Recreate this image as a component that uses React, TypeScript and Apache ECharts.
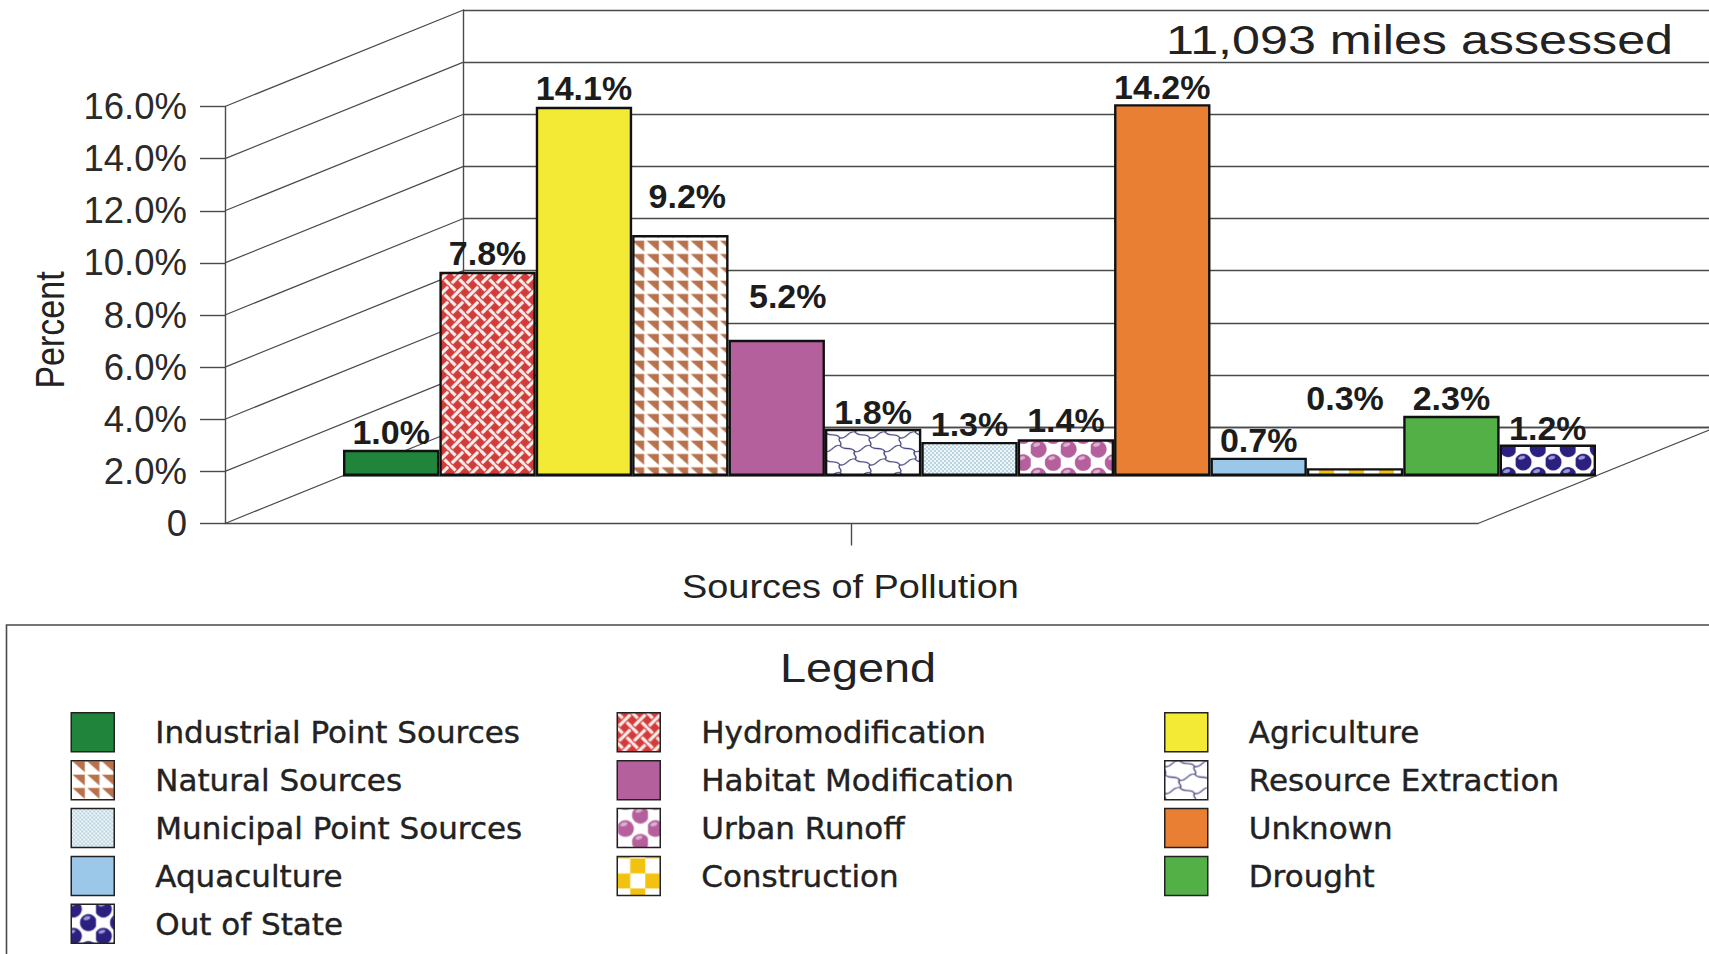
import React, { useEffect, useRef } from "react";
import * as echarts from "echarts";

const categories = [
  "Industrial Point Sources", "Hydromodification", "Agriculture", "Natural Sources", "Habitat Modification",
  "Resource Extraction", "Municipal Point Sources", "Urban Runoff", "Unknown", "Aquaculture",
  "Construction", "Drought", "Out of State",
];
const percents = [1.0, 7.8, 14.1, 9.2, 5.2, 1.8, 1.3, 1.4, 14.2, 0.7, 0.3, 2.3, 1.2];
const depthTicks = [0, 2, 4, 6, 8, 10, 12, 14, 16];
const legendColumns = [
  ["Industrial Point Sources", "Natural Sources", "Municipal Point Sources", "Aquaculture", "Out of State"],
  ["Hydromodification", "Habitat Modification", "Urban Runoff", "Construction"],
  ["Agriculture", "Resource Extraction", "Unknown", "Drought"],
];

// label placement relative to each bar top (screen px)
const labelLift = [18, 19, 19, 39.5, 43.7, 17, 18, 19, 17, 18, 70, 18, 17];
const labelShift = [0, 0, 0, 7, 11, 0, 0, 0, 0, 0, -10, 0, 0];

const FRONT = { left: 225, top: 106.5, width: 1253, height: 417 };
const DEPTH = { dx: 238.5, dy: -96.5 };
const INK = "#4a4a4a";
const SS = 3;

function tile(w: number, h: number, draw: (c: CanvasRenderingContext2D) => void) {
  const cv = document.createElement("canvas");
  cv.width = Math.round(w * SS);
  cv.height = Math.round(h * SS);
  const c = cv.getContext("2d")!;
  c.scale(SS, SS);
  draw(c);
  return cv;
}
// bake a phase into a tile (wrapped), since the pattern is anchored at the chart's origin
function shifted(src: HTMLCanvasElement, px: number, py: number) {
  const cv = document.createElement("canvas");
  cv.width = src.width;
  cv.height = src.height;
  const c = cv.getContext("2d")!;
  const ox = Math.round(px * SS) % src.width, oy = Math.round(py * SS) % src.height;
  for (const dx of [0, -src.width]) for (const dy of [0, -src.height]) c.drawImage(src, ox + dx, oy + dy);
  return cv;
}
function pat(cv: HTMLCanvasElement) {
  return { image: cv, repeat: "repeat", scaleX: 1 / SS, scaleY: 1 / SS };
}

function weaveTile() {
  const T = 15;
  return tile(T, T, (c) => {
    c.fillStyle = "#d23c38";
    c.fillRect(0, 0, T, T);
    c.strokeStyle = "#fbeeee";
    c.lineWidth = 3.1;
    const L = 0.37 * T;
    for (const ox of [-T, 0, T]) for (const oy of [-T, 0, T]) {
      c.beginPath();
      c.moveTo(ox - L, oy - L);
      c.lineTo(ox + L, oy + L);
      c.stroke();
      const cx = ox + T / 2, cy = oy + T / 2;
      c.beginPath();
      c.moveTo(cx - L, cy + L);
      c.lineTo(cx + L, cy - L);
      c.stroke();
    }
  });
}
function triangleTile() {
  const W = 14.7, H = 13.2;
  return tile(W, H, (c) => {
    c.fillStyle = "#fff";
    c.fillRect(0, 0, W, H);
    c.fillStyle = "#b9714c";
    c.beginPath();
    c.moveTo(1.2, 0.6);
    c.lineTo(W - 1.2, 0.6);
    c.lineTo(W - 1.2, H - 1.6);
    c.closePath();
    c.fill();
  });
}
function puzzleTile() {
  const W = 30, H = 27;
  return tile(W, H, (c) => {
    c.fillStyle = "#fff";
    c.fillRect(0, 0, W, H);
    c.strokeStyle = "#3b3b78";
    c.lineWidth = 1.15;
    const edge = (ax: number, ay: number, bx: number, by: number) => {
      const dx = bx - ax, dy = by - ay;
      const len = Math.hypot(dx, dy);
      const nx = (-dy / len) * 3.5, ny = (dx / len) * 3.5;
      c.beginPath();
      c.moveTo(ax, ay);
      c.bezierCurveTo(ax + dx / 3 + nx, ay + dy / 3 + ny, ax + (2 * dx) / 3 - nx, ay + (2 * dy) / 3 - ny, bx, by);
      c.stroke();
    };
    const row = (ox: number, oy: number) => {
      edge(ox, oy + 6, ox + 15, oy);
      edge(ox + 15, oy, ox + 30, oy + 6);
      edge(ox, oy + 6, ox, oy + 13.5);
      edge(ox + 30, oy + 6, ox + 30, oy + 13.5);
    };
    for (const ox of [-W, 0, W]) {
      for (const oy of [-H, 0, H]) {
        row(ox, oy);
        row(ox + 15, oy + 13.5);
      }
    }
  });
}
function dotTile() {
  const T = 4;
  return tile(T, T, (c) => {
    c.fillStyle = "#eef7fb";
    c.fillRect(0, 0, T, T);
    c.fillStyle = "#6f9db4";
    for (const [x, y] of [[1, 1], [3, 3]]) {
      c.beginPath();
      c.arc(x, y, 0.78, 0, Math.PI * 2);
      c.fill();
    }
  });
}
function ballTile(body: string, shine: string) {
  const W = 30, H = 27;
  return tile(W, H, (c) => {
    c.fillStyle = "#fff";
    c.fillRect(0, 0, W, H);
    for (const [cx, cy] of [[7.5, 6.75], [22.5, 20.25], [7.5, 33.75], [22.5, -6.75]]) {
      c.fillStyle = body;
      c.beginPath();
      c.arc(cx, cy, 8.4, 0, Math.PI * 2);
      c.fill();
      c.fillStyle = shine;
      c.beginPath();
      c.ellipse(cx - 1.5, cy - 4.4, 3.6, 1.9, -0.3, 0, Math.PI * 2);
      c.fill();
    }
  });
}
function checkerTile() {
  const T = 30;
  return tile(T, T, (c) => {
    c.fillStyle = "#fff";
    c.fillRect(0, 0, T, T);
    c.fillStyle = "#f3c20f";
    c.fillRect(0, 0, 15, 15);
    c.fillRect(15, 15, 15, 15);
  });
}

function App() {
  const ref = useRef<HTMLDivElement>(null);
  useEffect(() => {
    const chart = echarts.init(ref.current!, undefined, { renderer: "svg" });
    const weave = weaveTile(), tri = triangleTile(), puzzle = puzzleTile(), dots = dotTile();
    const pink = ballTile("#b5609d", "#dcb0d0"), navy = ballTile("#2b2080", "#9a9ad6"), check = checkerTile();

    const fills: Record<string, any> = {
      "Industrial Point Sources": "#20843a",
      Hydromodification: pat(weave),
      Agriculture: "#f2ea34",
      "Natural Sources": pat(tri),
      "Habitat Modification": "#b4609c",
      "Resource Extraction": pat(puzzle),
      "Municipal Point Sources": pat(dots),
      "Urban Runoff": pat(shifted(pink, 10.5, 10.25)),
      Unknown: "#e87f33",
      Aquaculture: "#9bc7e8",
      Construction: pat(shifted(check, 29, 11)),
      Drought: "#52b047",
      "Out of State": pat(shifted(navy, 15.5, 23.25)),
    };
    const legendFills: Record<string, any> = {
      ...fills,
      "Urban Runoff": pat(shifted(pink, 0.5, 13.25)),
      Construction: pat(shifted(check, 28, 17)),
      "Out of State": pat(shifted(navy, 24.5, 25)),
    };

    const barSeries = categories.map((name, k) => ({
      name,
      type: "bar",
      xAxisIndex: 2,
      yAxisIndex: 2,
      stack: "sources",
      barWidth: "100%",
      z: 3,
      silent: true,
      data: categories.map((_, i) => (i === k ? percents[k] : null)),
      itemStyle: { color: fills[name], borderColor: "#111", borderWidth: 2.4 },
      label: {
        show: true,
        position: "top",
        distance: labelLift[k] - 17,
        offset: [labelShift[k], 0],
        formatter: (p: any) => `${Number(p.value).toFixed(1)}%`,
        fontFamily: "Liberation Sans",
        fontWeight: "bold",
        fontSize: 34,
        color: "#1c1c1c",
      },
    }));

    const depthSeries = {
      type: "custom",
      xAxisIndex: 0,
      yAxisIndex: 0,
      z: 1,
      silent: true,
      clip: false,
      data: [...depthTicks.map((v) => [0, v]), [1, 0]],
      renderItem: (params: any, api: any) => {
        const cs = params.coordSys;
        const x = cs.x + api.value(0) * cs.width;
        const y = api.coord([0, api.value(1)])[1];
        return {
          type: "line",
          shape: { x1: x, y1: y, x2: x + DEPTH.dx, y2: y + DEPTH.dy },
          style: { stroke: INK, lineWidth: 1.2 },
        };
      },
    };

    const line = { show: true, lineStyle: { color: INK, width: 1.4 } };
    const text = (t: string, x: number, y: number, size: number, sx: number, extra: any = {}) => ({
      type: "text",
      x,
      y,
      scaleX: sx,
      z: 4,
      style: { text: t, font: `${size}px "Liberation Sans"`, fill: "#222", ...extra },
    });

    chart.setOption({
      animation: false,
      backgroundColor: "#fff",
      grid: [
        { ...FRONT },
        { left: FRONT.left + DEPTH.dx, top: FRONT.top + DEPTH.dy, right: 0, height: FRONT.height },
        { left: 343, top: 57, width: 1253, height: 419 },
      ],
      xAxis: [
        {
          gridIndex: 0,
          type: "category",
          data: [""],
          axisLine: line,
          axisTick: { show: true, alignWithLabel: true, length: 22, lineStyle: { color: INK, width: 1.4 } },
          axisLabel: { show: false },
        },
        { gridIndex: 1, type: "category", data: [""], axisLine: line, axisTick: { show: false }, axisLabel: { show: false } },
        {
          gridIndex: 2,
          type: "category",
          data: categories,
          axisLine: { show: true, lineStyle: { color: "#777", width: 1.2 } },
          axisTick: { show: false },
          axisLabel: { show: false },
        },
      ],
      yAxis: [
        {
          gridIndex: 0,
          type: "value",
          min: 0,
          max: 16,
          interval: 2,
          axisLine: line,
          axisTick: { show: true, length: 25, lineStyle: { color: INK, width: 1.4 } },
          splitLine: { show: false },
          axisLabel: {
            margin: 38,
            fontFamily: "Liberation Sans",
            fontSize: 36.5,
            color: "#2a2a2a",
            formatter: (v: number) => (v === 0 ? "0" : `${v.toFixed(1)}%`),
          },
        },
        {
          gridIndex: 1,
          type: "value",
          min: 0,
          max: 16,
          interval: 2,
          axisLine: line,
          axisTick: { show: false },
          axisLabel: { show: false },
          splitLine: { show: true, lineStyle: { color: INK, width: 1.4 } },
        },
        { gridIndex: 2, type: "value", min: 0, max: 16, show: false, splitLine: { show: false } },
      ],
      legend: legendColumns.map((names, i) => ({
        orient: "vertical",
        left: [70.5, 616.5, 1164][i],
        top: 712,
        padding: 0,
        itemWidth: 43,
        itemHeight: 39,
        itemGap: 7.4,
        icon: "rect",
        selectedMode: false,
        textStyle: {
          fontFamily: "DejaVu Sans",
          fontSize: 31,
          color: "#222",
          textBorderColor: "#222",
          textBorderWidth: 0.4,
          padding: [0, 0, 0, 36],
        },
        data: names.map((name) => ({
          name,
          icon: "rect",
          itemStyle: { color: legendFills[name], borderColor: "#222", borderWidth: 1.5 },
        })),
      })),
      series: [depthSeries, ...barSeries],
      graphic: [
        {
          type: "rect",
          z: 0,
          shape: { x: 6.5, y: 625, width: 1800, height: 500 },
          style: { fill: "none", stroke: INK, lineWidth: 1.6 },
        },
        text("11,093 miles assessed", 1166, 61, 41, 1.225, { verticalAlign: "bottom" }),
        text("Legend", 780, 688, 40, 1.17, { verticalAlign: "bottom" }),
        text("Sources of Pollution", 682, 603, 33, 1.148, { verticalAlign: "bottom" }),
        { ...text("Percent", 50, 330, 34, 1, { align: "center", verticalAlign: "middle" }), rotation: Math.PI / 2, scaleY: 1.2 },
      ],
    });
    return () => chart.dispose();
  }, []);
  return <div ref={ref} style={{ position: "fixed", left: 0, top: 0, width: 1709, height: 954 }} />;
}

export default App;
